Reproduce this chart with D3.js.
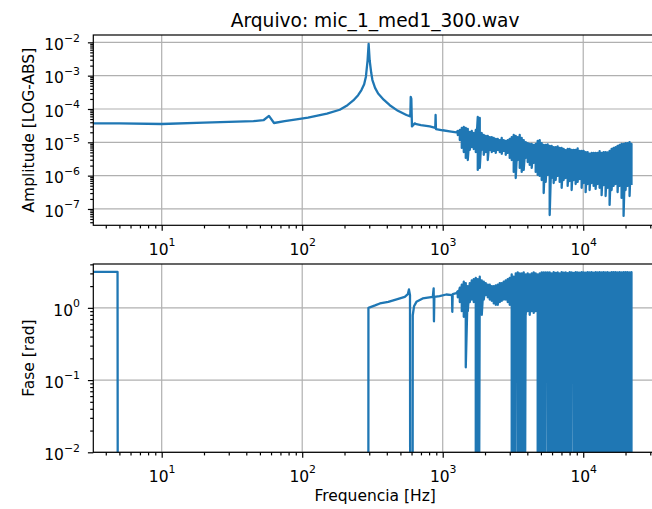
<!DOCTYPE html>
<html>
<head>
<meta charset="utf-8">
<script src="https://cdn.jsdelivr.net/npm/d3@7"></script>
<style>
  body { margin: 0; background: #fff; }
  svg text { font-family: "DejaVu Sans", sans-serif; fill: #000; }
</style>
</head>
<body>
<svg id="chart" width="652" height="509"></svg>
<script>
// axis ticks
const xTicks = [10, 100, 1000, 10000];
const ampTicks = [1e-7, 1e-6, 1e-5, 1e-4, 1e-3, 1e-2];
const phaseTicks = [1e-2, 1e-1, 1];

// smooth part of the amplitude spectrum (Hz, abs)
const ampFreq = [2, 5, 10, 20, 30, 45, 53, 58, 63, 75, 91, 110, 126, 150, 185, 210, 231, 250, 264, 276,
  284, 292, 297, 302, 310, 316, 330, 347, 380, 420, 480, 552, 588, 592, 598, 604, 632, 650, 700, 809,
  885, 890, 895, 1000, 1150, 1250];
const ampVal = [3.7e-5, 3.7e-5, 3.55e-5, 3.9e-5, 4.1e-5, 4.3e-5, 4.6e-5, 6.2e-5, 3.8e-5, 4.3e-5,
  4.9e-5, 5.5e-5, 6.2e-5, 7.3e-5, 9.5e-5, 1.3e-4, 1.8e-4, 2.6e-4, 3.7e-4, 5.5e-4,
  9.3e-4, 2.9e-3, 9.0e-3, 2.9e-3, 1.2e-3, 7.4e-4, 4.3e-4, 2.9e-4, 1.9e-4, 1.3e-4,
  8.8e-5, 6.6e-5, 6.0e-5, 2.3e-4, 2.0e-4, 3.0e-5, 3.7e-5, 3.5e-5, 3.3e-5, 3.0e-5,
  2.7e-5, 6.6e-5, 2.5e-5, 2.3e-5, 2.1e-5, 2.0e-5];

// smooth part of the phase (Hz, rad) - zeros / negatives fall off the log axis
const phaseFreq = [2, 4.85, 4.9, 295, 296, 330, 357, 410, 470, 537, 565, 575, 585, 590, 608, 612, 625, 650, 720, 850,
  862, 866, 872, 950, 1060, 1165, 1170, 1178, 1250];
const phaseVal = [3.14, 3.14, 0, 0, 1.0, 1.08, 1.15, 1.21, 1.31, 1.42, 1.55, 1.8, 1.5, 0, 0, 0.79, 1.05, 1.21, 1.35, 1.42,
  1.86, 0.65, 1.42, 1.45, 1.53, 1.5, 0.88, 1.55, 1.6];

// noisy part above ~1.3 kHz: upper and lower excursion at each frequency
const bandFreq = [1280, 1323, 1367, 1412, 1459, 1508, 1558, 1610, 1663, 1719,
  1776, 1835, 1896, 1959, 2024, 2092, 2161, 2233, 2308, 2384,
  2464, 2546, 2630, 2718, 2808, 2902, 2998, 3098, 3201, 3308,
  3418, 3532, 3649, 3771, 3896, 4026, 4160, 4298, 4441, 4589,
  4742, 4900, 5063, 5231, 5405, 5585, 5771, 5963, 6161, 6366,
  6578, 6797, 7023, 7257, 7498, 7748, 8006, 8272, 8547, 8832,
  9126, 9429, 9743, 10067, 10402, 10748, 11106, 11475, 11857, 12252,
  12659, 13080, 13516, 13965, 14430, 14910, 15406, 15919, 16448, 16996,
  17561, 18145, 18749, 19373, 20017, 20683, 21371, 22050];
const ampHi = [2.19e-5, 2.34e-5, 2.69e-5, 2.88e-5, 2.69e-5, 2.51e-5, 2.04e-5, 2.19e-5, 1.9e-5, 2.34e-5,
  5.75e-5, 5.36e-5, 1.9e-5, 1.66e-5, 1.55e-5, 1.55e-5, 1.44e-5, 1.44e-5, 1.35e-5, 1.26e-5,
  1.26e-5, 1.17e-5, 1.35e-5, 1.17e-5, 1.1e-5, 1.17e-5, 1.26e-5, 1.44e-5, 1.66e-5, 1.55e-5,
  1.44e-5, 1.66e-5, 1.35e-5, 1.17e-5, 1.02e-5, 9.5e-6, 8.9e-6, 8.9e-6, 8.3e-6, 8.9e-6,
  1.1e-5, 1.17e-5, 9.5e-6, 8.3e-6, 8.3e-6, 8.6e-6, 7.8e-6, 7.8e-6, 7.2e-6, 7.2e-6,
  7.5e-6, 6.8e-6, 6.8e-6, 6.3e-6, 5.8e-6, 6.3e-6, 6.3e-6, 5.9e-6, 5.9e-6, 5.9e-6,
  6.6e-6, 5.5e-6, 5.5e-6, 5.5e-6, 5.1e-6, 5.1e-6, 4.6e-6, 4.8e-6, 4.8e-6, 4.8e-6,
  4.8e-6, 5.4e-6, 4.8e-6, 5.1e-6, 5.1e-6, 5.0e-6, 5.5e-6, 6.3e-6, 6.8e-6, 7.2e-6,
  7.8e-6, 8.3e-6, 8.9e-6, 8.9e-6, 9.5e-6, 9.5e-6, 1.02e-5, 8.9e-6];
const ampLo = [1.66e-5, 1.17e-5, 6.8e-6, 5.1e-6, 3.4e-6, 2.95e-6, 5.9e-6, 7.2e-6, 6.3e-6, 5.1e-6,
  1.48e-6, 1.7e-6, 5.9e-6, 4.2e-6, 5.1e-6, 2.95e-6, 5.9e-6, 5.1e-6, 5.5e-6, 4.8e-6,
  5.9e-6, 5.1e-6, 4.5e-6, 5.5e-6, 4.2e-6, 4.8e-6, 3.4e-6, 2.95e-6, 1.29e-6, 8.5e-7,
  2.95e-6, 1.7e-6, 1.29e-6, 1.48e-6, 3.4e-6, 2.57e-6, 2.09e-6, 1.7e-6, 2.4e-6, 1.29e-6,
  1.05e-6, 9.8e-7, 7.4e-7, 3.0e-7, 6.5e-7, 1.05e-6, 6.6e-8, 8.5e-7, 6.0e-7, 7.4e-7,
  9.8e-7, 6.5e-7, 4.3e-7, 7.4e-7, 8.5e-7, 4.9e-7, 6.9e-7, 3.7e-7, 7.4e-7, 5.6e-7,
  6.5e-7, 7.9e-7, 4.3e-7, 6.0e-7, 3.2e-7, 5.6e-7, 3.7e-7, 6.0e-7, 4.9e-7, 4.0e-7,
  5.6e-7, 4.3e-7, 2.6e-7, 5.2e-7, 2.45e-7, 4.3e-7, 1.32e-7, 3.7e-7, 4.9e-7, 5.6e-7,
  3.2e-7, 4.9e-7, 2.14e-7, 6.2e-8, 3.7e-7, 4.9e-7, 2.45e-7, 5.2e-7];
const phaseHi = [1.7, 1.9, 2.1, 2.3, 2.2, 2.0, 2.2, 2.4, 2.5, 2.6,
  2.5, 2.7, 2.4, 2.3, 2.2, 2.1, 2.1, 2.0, 2.0, 2.05,
  2.1, 2.2, 2.2, 2.3, 2.4, 2.5, 2.6, 2.9, 2.7, 3.0,
  3.1, 3.0, 3.0, 3.1, 2.9, 3.0, 2.9, 3.0, 3.1, 3.0,
  2.9, 3.0, 3.1, 3.1, 3.1, 3.1, 3.1, 3.0, 3.12, 3.05,
  3.1, 3.0, 3.13, 3.08, 3.1, 3.02, 3.12, 3.1, 3.05, 3.13,
  3.1, 3.08, 3.12, 3.1, 3.06, 3.13, 3.1, 3.12, 3.08, 3.13,
  3.1, 3.12, 3.09, 3.13, 3.1, 3.12, 3.08, 3.13, 3.11, 3.12,
  3.1, 3.13, 3.09, 3.12, 3.11, 3.13, 3.1, 3.12];
const phaseLo = [1.4, 1.2, 0.9, 0.75, 0.15, 0.9, 1.2, 1.3, 1.2, 0,
  0, 0.9, 0.8, 1.3, 1.5, 1.4, 1.3, 1.25, 1.15, 1.1,
  1.1, 1.2, 1.25, 1.3, 1.3, 1.2, 1.1, 0, 0, 0.7,
  0, 0, 0, 0, 0.8, 0.9, 0.8, 0.9, 0.85, 0.9,
  0, 0, 0, 0, 0.9, 0, 0, 0, 0, 0,
  0, 0, 0, 0, 0, 0, 0, 0.85, 0, 0,
  0, 0, 0, 0, 0, 0, 0, 0, 0, 0,
  0, 0, 0, 0, 0, 0, 0, 0, 0, 0,
  0, 0, 0, 0, 0, 0, 0, 0];

const title = "Arquivo: mic_1_med1_300.wav";

// layout (figure is cut on the right, the axes run past the window)
const left = 93.3, right = 657;
const ampBox = { top: 35, bottom: 225.3 };
const phaseBox = { top: 264, bottom: 452.3 };
const fontSize = 15.5, supSize = 10.9;
const blue = "#1f77b4", gridColor = "#b0b0b0";
const lineWidth = 2.3, thin = 1.2;

const svg = d3.select("#chart");

const x = d3.scaleLog().domain([3.26, 33500]).range([left, right]);
const yAmp = d3.scaleLog().domain([Math.pow(10, -7.49), Math.pow(10, -1.78)]).range([ampBox.bottom, ampBox.top]);
const yPhase = d3.scaleLog().domain([0.01, Math.pow(10, 0.607)]).range([phaseBox.bottom, phaseBox.top]);

// build point lists: smooth part, then a zigzag through the noisy band
const ampPoints = ampFreq.map((f, i) => [f, ampVal[i]]);
bandFreq.forEach((f, i) => { ampPoints.push([f, ampHi[i]], [f, ampLo[i]]); });
const phasePoints = phaseFreq.map((f, i) => [f, phaseVal[i]]);
bandFreq.forEach((f, i) => { phasePoints.push([f, phaseHi[i]], [f, phaseLo[i]]); });

function minorTicks(domain) {
    const out = [];
    const lo = Math.floor(Math.log10(domain[0])), hi = Math.ceil(Math.log10(domain[1]));
    for (let e = lo; e <= hi; e++) {
        for (let k = 2; k <= 9; k++) {
            const v = k * Math.pow(10, e);
            if (v >= domain[0] && v <= domain[1]) out.push(v);
        }
    }
    return out;
}

function expLabel(d) {
    const e = Math.round(Math.log10(d));
    return e < 0 ? "\u2212" + (-e) : String(e);
}

function mathLabels(axisG) {
    axisG.selectAll(".tick text").each(function(d) {
        const t = d3.select(this).text(null)
            .attr("font-size", fontSize)
            .attr("font-family", "DejaVu Sans");
        t.append("tspan").text("10");
        t.append("tspan").attr("dy", -8.4).attr("font-size", supSize).text(expLabel(d));
    });
}

function drawPanel(box, y, yTicks, points, clipId, yLabel) {
    const g = svg.append("g");

    svg.append("clipPath").attr("id", clipId)
        .append("rect")
        .attr("x", left).attr("y", box.top)
        .attr("width", right - left).attr("height", box.bottom - box.top);

    // grid (major only)
    g.append("g").selectAll("line")
        .data(xTicks)
        .join("line")
        .attr("x1", d => x(d)).attr("x2", d => x(d))
        .attr("y1", box.top).attr("y2", box.bottom)
        .attr("stroke", gridColor).attr("stroke-width", thin);
    g.append("g").selectAll("line")
        .data(yTicks)
        .join("line")
        .attr("x1", left).attr("x2", right)
        .attr("y1", d => y(d)).attr("y2", d => y(d))
        .attr("stroke", gridColor).attr("stroke-width", thin);

    // data line
    g.append("path")
        .datum(points)
        .attr("clip-path", `url(#${clipId})`)
        .attr("d", d3.line()
            .x(d => x(d[0]))
            .y(d => y(Math.max(d[1], 1e-9))))
        .attr("fill", "none")
        .attr("stroke", blue)
        .attr("stroke-width", lineWidth)
        .attr("stroke-linejoin", "round");

    // x axis, major + minor
    const xAxis = g.append("g")
        .attr("transform", `translate(0, ${box.bottom})`)
        .call(d3.axisBottom(x).tickValues(xTicks).tickSize(5.4).tickSizeOuter(0));
    xAxis.selectAll(".tick text").attr("y", 29.4).attr("dy", null);
    mathLabels(xAxis);
    g.append("g")
        .attr("transform", `translate(0, ${box.bottom})`)
        .call(d3.axisBottom(x).tickValues(minorTicks(x.domain())).tickSize(3.1).tickFormat(""));

    // y axis, major + minor
    const yAxis = g.append("g")
        .attr("transform", `translate(${left}, 0)`)
        .call(d3.axisLeft(y).tickValues(yTicks).tickSize(5.4).tickSizeOuter(0));
    yAxis.selectAll(".tick text").attr("x", -13.3).attr("dy", 7.2);
    mathLabels(yAxis);
    g.append("g")
        .attr("transform", `translate(${left}, 0)`)
        .call(d3.axisLeft(y).tickValues(minorTicks(y.domain())).tickSize(3.1).tickFormat(""));

    g.selectAll(".domain").remove();
    g.selectAll(".tick line").attr("stroke", "#000").attr("stroke-width", thin);

    // spines
    g.append("rect")
        .attr("x", left).attr("y", box.top)
        .attr("width", right - left).attr("height", box.bottom - box.top)
        .attr("fill", "none").attr("stroke", "#000").attr("stroke-width", thin);

    svg.append("text")
        .attr("transform", `translate(33.5, ${(box.top + box.bottom) / 2}) rotate(-90)`)
        .attr("text-anchor", "middle")
        .attr("font-size", fontSize)
        .text(yLabel);
}

drawPanel(ampBox, yAmp, ampTicks, ampPoints, "clip-amp", "Amplitude [LOG-ABS]");
drawPanel(phaseBox, yPhase, phaseTicks, phasePoints, "clip-phase", "Fase [rad]");

svg.append("text")
    .attr("x", (left + right) / 2)
    .attr("y", 27)
    .attr("text-anchor", "middle")
    .attr("font-size", 18.6)
    .text(title);

svg.append("text")
    .attr("x", (left + right) / 2)
    .attr("y", 501)
    .attr("text-anchor", "middle")
    .attr("font-size", fontSize)
    .text("Frequencia [Hz]");
</script>
</body>
</html>
